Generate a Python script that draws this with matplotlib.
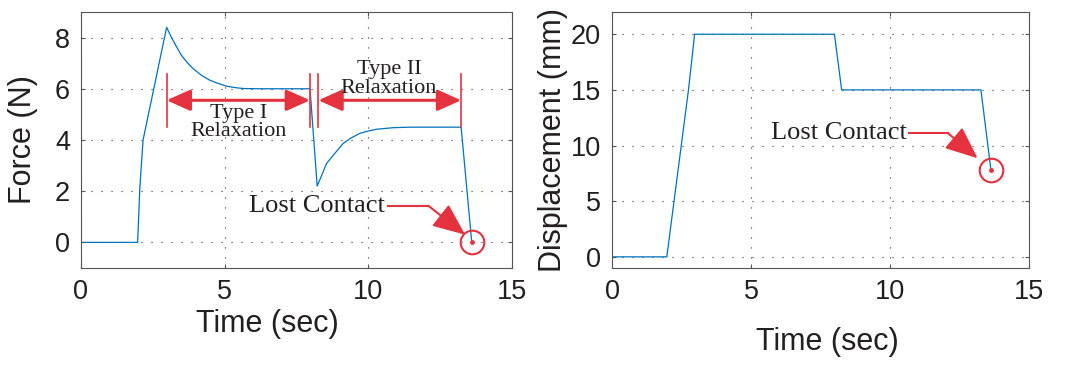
import matplotlib
matplotlib.use("Agg")
import matplotlib.pyplot as plt

# force response (N) over time (sec)
t_force = [0, 1.97, 2.05, 2.16, 2.98, 3.15, 3.33, 3.5, 3.7, 3.91, 4.2, 4.49, 4.8,
           5.07, 5.4, 5.65, 6.2, 7.97, 8.22, 8.37, 8.55, 8.85, 9.13, 9.4, 9.71,
           10.0, 10.29, 10.87, 11.45, 13.23, 13.6]
force = [0, 0, 2.18, 4.0, 8.4, 8.0, 7.63, 7.3, 7.02, 6.78, 6.52, 6.33, 6.2,
         6.1, 6.04, 6.01, 6.0, 6.0, 2.2, 2.6, 3.09, 3.5, 3.87, 4.08, 4.26,
         4.35, 4.42, 4.48, 4.5, 4.5, 0]

# indenter displacement (mm) over time (sec)
t_disp = [0, 1.97, 2.75, 2.97, 8.0, 8.26, 13.27, 13.63]
disp = [0, 0, 15, 20, 20, 15, 15, 7.8]

xticks = [0, 5, 10, 15]
force_ticks = [0, 2, 4, 6, 8]
disp_ticks = [0, 5, 10, 15, 20]

blue = "#0072BD"
red = "#E5323F"
ink = "#231F20"
sans = "Liberation Sans"
serif = "Liberation Serif"

fig = plt.figure(figsize=(10.7, 3.65), dpi=100)
ax1 = fig.add_axes([0.0757, 0.2658, 0.4028, 0.7014])
ax2 = fig.add_axes([0.572, 0.2658, 0.3897, 0.7014])


def style(ax, yticks, ylim):
    ax.set_xlim(0, 15)
    ax.set_ylim(*ylim)
    ax.set_xticks(xticks)
    ax.set_yticks(yticks)
    ax.tick_params(direction="in", length=3, width=0.8, colors="#555555",
                   labelcolor=ink, labelsize=19.5, pad=8,
                   top=True, right=True)
    for lab in ax.get_xticklabels() + ax.get_yticklabels():
        lab.set_family(sans)
    ax.grid(True, color="#333333", linewidth=0.8, linestyle=(0, (1, 8)))
    for sp in ax.spines.values():
        sp.set_color("#555555")
        sp.set_linewidth(0.8)


style(ax1, force_ticks, (-1, 9))
style(ax2, disp_ticks, (-1, 22))

ax1.plot(t_force, force, color=blue, lw=0.9)
ax2.plot(t_disp, disp, color=blue, lw=0.9)

ax1.set_xlabel("Time (sec)", fontsize=22, family=sans, color=ink, va="center")
ax1.xaxis.set_label_coords(0.433, -0.219)
ax1.set_ylabel("Force (N)", fontsize=22, family=sans, color=ink, va="center")
ax1.yaxis.set_label_coords(-0.1346, 0.5)

ax2.set_xlabel("Time (sec)", fontsize=22, family=sans, color=ink, va="center")
ax2.xaxis.set_label_coords(0.516, -0.289)
ax2.set_ylabel("Displacement (mm)", fontsize=22, family=sans, color=ink, va="center")
ax2.yaxis.set_label_coords(-0.1415, 0.5)

# relaxation spans with double-headed arrows
span_head = "<|-|>,head_length=1.45,head_width=0.65"
for x0, x1 in [(2.98, 7.97), (8.26, 13.23)]:
    for x in (x0, x1):
        ax1.plot([x, x], [4.49, 6.56], color=red, lw=1.2)
    ax1.annotate("", xy=(x1, 5.55), xytext=(x0, 5.55),
                 arrowprops=dict(arrowstyle=span_head, mutation_scale=10,
                                 color=red, lw=2.2, shrinkA=0, shrinkB=0))

ax1.text(5.5, 4.68, "Type I\nRelaxation", ha="center", va="center",
         fontsize=16, family=serif, color=ink, linespacing=0.95)
ax1.text(10.72, 6.38, "Type II\nRelaxation", ha="center", va="center",
         fontsize=16, family=serif, color=ink, linespacing=0.95)


def lost_contact(ax, text_x, text_y, bend_x, tip, point):
    ax.text(text_x, text_y, "Lost Contact", ha="right", va="center",
            fontsize=19, family=serif, color=ink)
    ax.plot([text_x + 0.1, bend_x], [text_y, text_y], color=red, lw=1.5)
    ax.annotate("", xy=tip, xytext=(bend_x, text_y),
                arrowprops=dict(arrowstyle="-|>,head_length=2.0,head_width=0.85",
                                mutation_scale=10, color=red, lw=1.5,
                                shrinkA=0, shrinkB=0))
    ax.plot(*point, "o", ms=17, mfc="none", mec=red, mew=1.5)
    ax.plot(*point, "o", ms=2.5, color=red)


lost_contact(ax1, 10.58, 1.43, 12.09, (13.37, 0.3), (t_force[-1], force[-1]))
lost_contact(ax2, 10.6, 11.1, 12.09, (13.15, 8.86), (t_disp[-1], disp[-1]))

fig.savefig("out.png", dpi=100)
